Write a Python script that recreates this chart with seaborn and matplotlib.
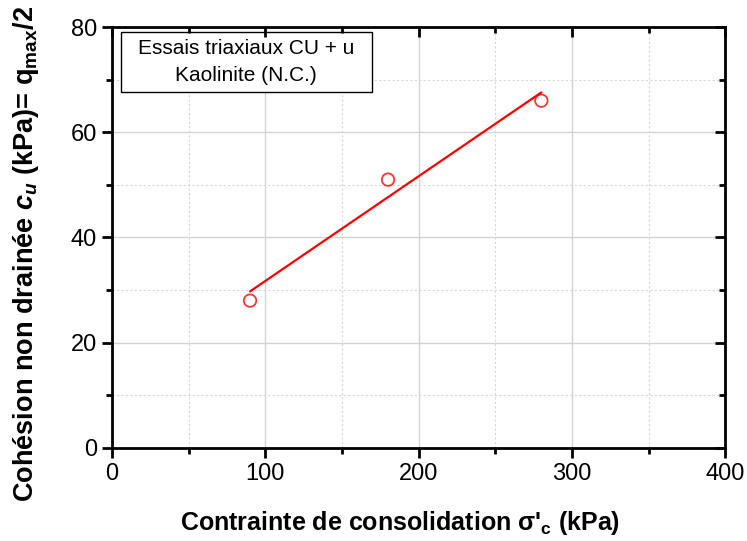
import matplotlib
matplotlib.use("Agg")
import matplotlib.pyplot as plt
import seaborn as sns
import pandas as pd
from matplotlib.ticker import MultipleLocator, NullFormatter
from matplotlib.patches import Rectangle

# Consolidation stress (kPa) and undrained cohesion (kPa)
sigma_c = [90, 180, 280]
c_u = [28, 51, 66]

x_ticks = [0, 100, 200, 300, 400]
y_ticks = [0, 20, 40, 60, 80]

df = pd.DataFrame({"sigma_c": sigma_c, "c_u": c_u})

sns.set_style("white")
plt.rcParams["font.family"] = ["Liberation Sans", "DejaVu Sans"]
plt.rcParams["text.color"] = "black"
plt.rcParams["axes.labelcolor"] = "black"
plt.rcParams["xtick.color"] = "black"
plt.rcParams["ytick.color"] = "black"
plt.rcParams["mathtext.fontset"] = "custom"
plt.rcParams["mathtext.rm"] = "Liberation Sans:bold"
plt.rcParams["mathtext.it"] = "Liberation Sans:italic:bold"
plt.rcParams["mathtext.bf"] = "Liberation Sans:bold"

fig = plt.figure(figsize=(7.47, 5.41), dpi=100)
rect = [0.150, 0.172, 0.821, 0.778]
ax = fig.add_axes(rect)

# Grid: solid at major ticks, dotted at minor ticks
ax.set_xlim(0, 400)
ax.set_ylim(0, 80)
ax.xaxis.set_major_locator(MultipleLocator(100))
ax.xaxis.set_minor_locator(MultipleLocator(50))
ax.yaxis.set_major_locator(MultipleLocator(20))
ax.yaxis.set_minor_locator(MultipleLocator(10))
ax.grid(which="major", color="#d3d3d3", linewidth=1.0, linestyle="-")
ax.grid(which="minor", color="#d8d8d8", linewidth=0.8, linestyle=(0, (2, 2)))
ax.set_axisbelow(True)

sns.regplot(
    data=df, x="sigma_c", y="c_u", ax=ax, ci=None, truncate=True,
    marker="o",
    scatter_kws=dict(facecolors="none", edgecolors="red", s=80, linewidths=1.3, zorder=3),
    line_kws=dict(color="red", linewidth=1.6, zorder=3),
)

ax.set_xlim(0, 400)
ax.set_ylim(0, 80)
ax.set_xticks(x_ticks)
ax.set_yticks(y_ticks)
ax.set_xticklabels([str(v) for v in x_ticks])
ax.set_yticklabels([str(v) for v in y_ticks])

for sp in ax.spines.values():
    sp.set_visible(True)
    sp.set_color("black")
    sp.set_linewidth(2.0)

ax.tick_params(axis="both", which="major", direction="out", length=7, width=2,
               labelsize=17, pad=4, colors="black", bottom=True, left=True,
               top=False, right=False)
ax.tick_params(axis="both", which="minor", direction="out", length=4.5, width=2,
               bottom=True, left=True, top=False, right=False, colors="black")

# Overlay frame carrying inward ticks on the top and right spines
frame = fig.add_axes(rect, sharex=ax, sharey=ax, frameon=False)
frame.patch.set_visible(False)
frame.grid(False)
frame.tick_params(axis="both", which="major", direction="in", length=7, width=2,
                  colors="black", bottom=False, left=False, top=True, right=True,
                  labelbottom=False, labelleft=False, labeltop=False, labelright=False)
frame.tick_params(axis="both", which="minor", direction="in", length=4.5, width=2,
                  colors="black", bottom=False, left=False, top=True, right=True)
frame.xaxis.set_minor_formatter(NullFormatter())
frame.yaxis.set_minor_formatter(NullFormatter())

ax.set_xlabel(r"Contrainte de consolidation σ'$_{\mathrm{c}}$ (kPa)",
              fontsize=18, fontweight="bold")
ax.xaxis.set_label_coords(0.470, -0.145)
ax.set_ylabel(r"Cohésion non drainée $c_u$ (kPa)= q$_{\mathrm{max}}$/2",
              fontsize=19.5, fontweight="bold")
ax.yaxis.set_label_coords(-0.116, 0.462)

# Annotation box
ax.add_patch(Rectangle((0.0147, 0.846), 0.409, 0.142, transform=ax.transAxes,
                       facecolor="white", edgecolor="black", linewidth=1.0,
                       zorder=4))
ax.text(0.219, 0.917, "Essais triaxiaux CU + u\nKaolinite (N.C.)",
        transform=ax.transAxes, ha="center", va="center", fontsize=15,
        linespacing=1.55, zorder=5)

fig.savefig("out.png", dpi=100)
